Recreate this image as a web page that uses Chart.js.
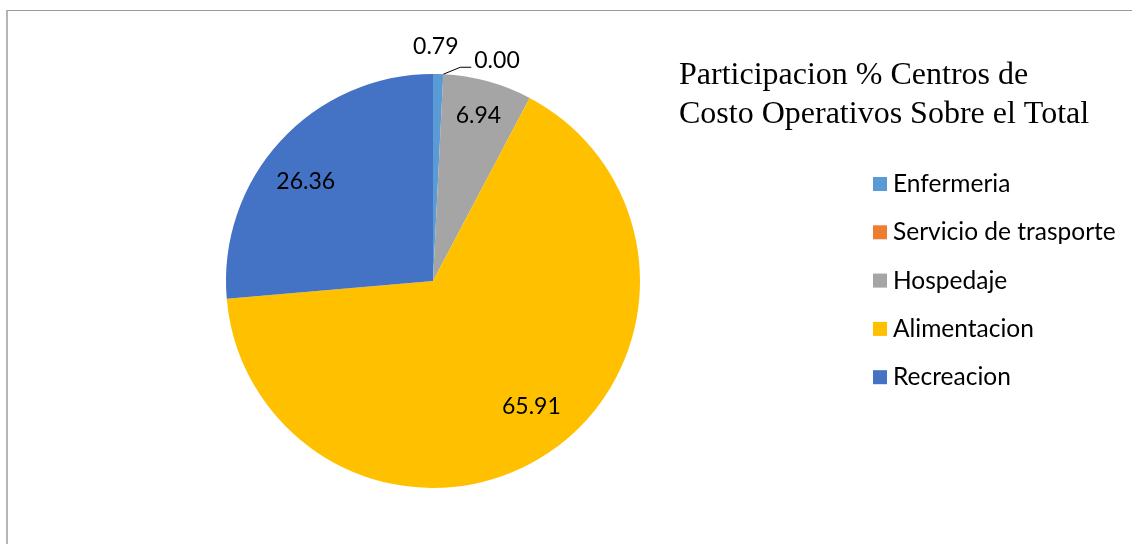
<!DOCTYPE html>
<html lang="es">
<head>
<meta charset="UTF-8">
<title>Participacion % Centros de Costo Operativos</title>
<script src="https://cdn.jsdelivr.net/npm/chart.js"></script>
<style>
  body { margin: 0; background: #fff; }
  #wrap { position: relative; width: 1132px; height: 544px; overflow: hidden; }
  /* frame of the chart object: only top and left edges fall inside the view */
  #frame { position: absolute; left: 6px; top: 10px; right: -4px; bottom: -4px;
           border-top: 1px solid #999; border-left: 2px solid #b5b5b5; }
  canvas { position: absolute; left: 0; top: 0; }
</style>
</head>
<body>
<div id="wrap">
  <div id="frame"></div>
  <canvas id="costChart" width="1132" height="544"></canvas>
</div>
<script>
const categories = ['Enfermeria', 'Servicio de trasporte', 'Hospedaje', 'Alimentacion', 'Recreacion'];
const shares = [0.79, 0.00, 6.94, 65.91, 26.36];
const sliceColors = ['#5b9bd5', '#ed7d31', '#a5a5a5', '#ffc000', '#4472c4'];
const titleLines = ['Participacion % Centros de', 'Costo Operativos Sobre el Total'];

const labelFont = '23px Lato, "Noto Sans", sans-serif';

// where each value label sits relative to its slice
const labelPlacement = [
    { mode: 'outside', gap: 27, shift: -3 },
    { mode: 'leader' },
    { mode: 'inside', frac: 0.83 },
    { mode: 'inside', frac: 0.77, turn: -0.08 },
    { mode: 'inside', frac: 0.78, turn: -0.08 }
];

const valueLabels = {
    id: 'valueLabels',
    afterDatasetsDraw(chart) {
        const ctx = chart.ctx;
        const arcs = chart.getDatasetMeta(0).data;
        ctx.save();
        ctx.font = labelFont;
        ctx.fillStyle = '#000';
        arcs.forEach((arc, i) => {
            const p = arc.getProps(['x', 'y', 'startAngle', 'endAngle', 'outerRadius'], true);
            const place = labelPlacement[i];
            const text = shares[i].toFixed(2);
            let mid = (p.startAngle + p.endAngle) / 2;
            if (place.mode === 'inside') {
                mid += place.turn || 0;
                const r = p.outerRadius * place.frac;
                ctx.textAlign = 'center';
                ctx.textBaseline = 'middle';
                ctx.fillText(text, p.x + Math.cos(mid) * r, p.y + Math.sin(mid) * r);
            } else if (place.mode === 'outside') {
                const r = p.outerRadius + place.gap;
                ctx.textAlign = 'center';
                ctx.textBaseline = 'middle';
                ctx.fillText(text, p.x + Math.cos(mid) * r + (place.shift || 0), p.y + Math.sin(mid) * r);
            } else {
                // tiny slice: short leader line out to the right
                const ex = p.x + Math.cos(mid) * p.outerRadius;
                const ey = p.y + Math.sin(mid) * p.outerRadius;
                ctx.strokeStyle = '#000';
                ctx.lineWidth = 1;
                ctx.beginPath();
                ctx.moveTo(ex, ey);
                ctx.lineTo(ex + 17, ey - 7);
                ctx.lineTo(ex + 28, ey - 7);
                ctx.stroke();
                ctx.textAlign = 'left';
                ctx.textBaseline = 'middle';
                ctx.fillText(text, ex + 31, ey - 14);
            }
        });
        ctx.restore();
    }
};

const sideTitleAndLegend = {
    id: 'sideTitleAndLegend',
    afterDraw(chart) {
        const ctx = chart.ctx;
        ctx.save();
        ctx.fillStyle = '#000';
        ctx.textAlign = 'left';
        ctx.textBaseline = 'alphabetic';
        ctx.font = '32px "Liberation Serif", "Times New Roman", serif';
        titleLines.forEach((line, i) => ctx.fillText(line, 679, 84 + i * 39));

        const colors = chart.data.datasets[0].backgroundColor;
        ctx.font = '24.5px Lato, "Noto Sans", sans-serif';
        ctx.textBaseline = 'middle';
        chart.data.labels.forEach((label, i) => {
            const cy = 184 + i * 48.3;
            ctx.fillStyle = colors[i];
            ctx.fillRect(873, cy - 7, 14, 14);
            ctx.fillStyle = '#000';
            ctx.fillText(label, 893, cy);
        });
        ctx.restore();
    }
};

new Chart(document.getElementById('costChart'), {
    type: 'pie',
    data: {
        labels: categories,
        datasets: [{
            data: shares,
            backgroundColor: sliceColors,
            borderWidth: 0,
            hoverOffset: 0
        }]
    },
    options: {
        responsive: false,
        animation: false,
        events: [],
        layout: { padding: { left: 226, right: 492, top: 74, bottom: 56 } },
        plugins: {
            legend: { display: false },
            tooltip: { enabled: false },
            title: { display: false }
        }
    },
    plugins: [valueLabels, sideTitleAndLegend]
});
</script>
</body>
</html>
